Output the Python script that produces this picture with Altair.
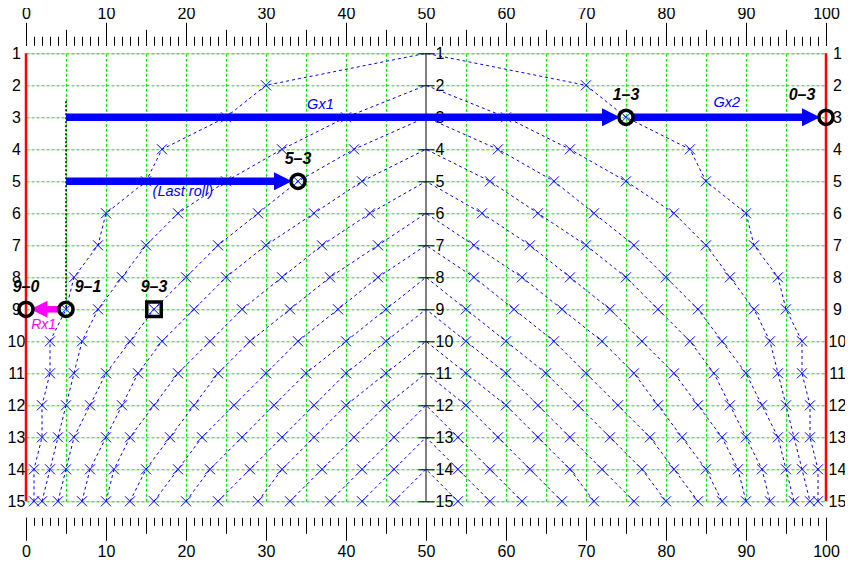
import altair as alt
import pandas as pd

FONT = "Liberation Sans"
BLUE = "#0000ff"
GREEN = "#00e600"
MAGENTA = "#ff00ff"

# ---------------- data ----------------
X_MAJOR = list(range(0, 101, 10))
X_MEDIUM = [v for v in range(5, 100, 5) if v != 50]
X_MINOR = list(range(0, 101, 1))
ROWS = list(range(1, 16))

# left half: row r -> x of r-1, r-2, ... r-(r-1)
LEFT = {
    2: [30],
    3: [25, 40],
    4: [17, 32, 41],
    5: [15, 25, 34, 42],
    6: [10, 19, 29, 36, 43],
    7: [9, 15, 24, 30, 37, 44],
    8: [6, 12, 20, 25, 32, 38, 44],
    9: [5, 9, 16, 21, 27, 33, 39, 45],
    10: [3, 7, 13, 17, 23, 28, 34, 40, 45],
    11: [3, 6, 10, 14, 19, 24, 30, 35, 40, 45],
    12: [2, 5, 8, 12, 16, 21, 26, 31, 36, 40, 45],
    13: [2, 4, 6, 10, 13, 18, 22, 27, 32, 36, 41, 46],
    14: [1, 3, 5, 8, 11, 15, 19, 23, 28, 32, 37, 42, 46],
    15: [1, 2, 4, 7, 10, 13, 16, 20, 24, 29, 33, 38, 42, 46],
}
# right half: row r -> x of 1-r, 2-r, ... (r-1)-r
RIGHT = {
    2: [70],
    3: [75, 60],
    4: [83, 68, 59],
    5: [85, 75, 66, 58],
    6: [90, 81, 71, 64, 57],
    7: [91, 85, 76, 70, 63, 56],
    8: [94, 88, 80, 75, 68, 62, 56],
    9: [95, 91, 84, 79, 73, 67, 61, 55],
    10: [97, 93, 87, 83, 77, 72, 66, 60, 55],
    11: [97, 94, 90, 86, 81, 76, 70, 65, 60, 55],
    12: [98, 95, 92, 88, 84, 79, 74, 69, 64, 60, 55],
    13: [98, 96, 94, 90, 87, 82, 78, 73, 68, 64, 59, 54],
    14: [99, 97, 95, 92, 89, 85, 81, 77, 72, 68, 63, 58, 54],
    15: [99, 98, 96, 93, 90, 87, 84, 80, 76, 71, 67, 62, 58, 54],
}
CENTER_X = 50

BOUNDARY_X = [0, 100]
DOTTED_X = [5]
DOTTED_FROM = [2.5]
DOTTED_TO = [9]

ARROW_NAME = ["Gx1", "Gx2", "Last", "Rx1"]
ARROW_FROM = [5, 75, 5, 5]
ARROW_TO = [75, 100, 34, 0]
ARROW_ROW = [3, 3, 5, 9]

CIRCLE_LABEL = ["9–0", "9–1", "5–3", "1–3", "0–3"]
CIRCLE_X = [0, 5, 34, 75, 100]
CIRCLE_ROW = [9, 9, 5, 3, 3]
SQUARE_LABEL = ["9–3"]
SQUARE_X = [16]
SQUARE_ROW = [9]

NOTE_TEXT = ["Gx1", "Gx2", "(Last roll)"]
NOTE_X = [36.8, 87.6, 19.6]
NOTE_ROW = [2.62, 2.56, 5.33]
RX_TEXT = ["Rx1"]
RX_X = [2.2]
RX_ROW = [9.49]

# ---------------- tables ----------------
recs = []
for b in range(1, 15):
    k = 0
    for a in range(15, b, -1):
        recs.append({"curve": b, "k": k, "x": LEFT[a][b - 1], "row": a}); k += 1
    recs.append({"curve": b, "k": k, "x": CENTER_X, "row": b}); k += 1
    for a in range(b + 1, 16):
        recs.append({"curve": b, "k": k, "x": RIGHT[a][b - 1], "row": a}); k += 1
curves = pd.DataFrame(recs)
marks = curves[curves["x"] != CENTER_X]

boundary = pd.DataFrame({"x": BOUNDARY_X, "r1": [ROWS[0]] * 2, "r2": [ROWS[-1]] * 2})
center = pd.DataFrame({"x": [CENTER_X], "r1": [ROWS[0]], "r2": [ROWS[-1]]})
dotted = pd.DataFrame({"x": DOTTED_X, "r1": DOTTED_FROM, "r2": DOTTED_TO})
arrows = pd.DataFrame({"name": ARROW_NAME, "x1": ARROW_FROM, "x2": ARROW_TO, "row": ARROW_ROW})
circles = pd.DataFrame({"label": CIRCLE_LABEL, "x": CIRCLE_X, "row": CIRCLE_ROW})
squares = pd.DataFrame({"label": SQUARE_LABEL, "x": SQUARE_X, "row": SQUARE_ROW})
notes = pd.DataFrame({"text": NOTE_TEXT, "x": NOTE_X, "row": NOTE_ROW})
rxnote = pd.DataFrame({"text": RX_TEXT, "x": RX_X, "row": RX_ROW})

# ---------------- scales & axes ----------------
xs = alt.Scale(domain=[0, 100], nice=False, zero=False)
ys = alt.Scale(domain=[1, 15], reverse=True, nice=False, zero=False)

common = dict(title=None, domain=False, labelFlush=False, labelOverlap=False,
              tickColor="black", labelColor="black", labelFont=FONT, labelFontSize=16)

ax_top_major = alt.Axis(orient="top", values=X_MAJOR, tickSize=23, offset=8, labelPadding=1, grid=False, **common)
ax_top_med = alt.Axis(orient="top", values=X_MEDIUM, tickSize=16, offset=8, labels=False, grid=True,
                      gridColor=GREEN, gridDash=[3, 2], gridWidth=1, **common)
ax_top_min = alt.Axis(orient="top", values=X_MINOR, tickSize=9, offset=8, labels=False, grid=False, **common)
ax_bot_major = alt.Axis(orient="bottom", values=X_MAJOR, tickSize=23, offset=16, labelPadding=3, grid=False, **common)
ax_bot_med = alt.Axis(orient="bottom", values=X_MEDIUM, tickSize=16, offset=16, labels=False, grid=False, **common)
ax_bot_min = alt.Axis(orient="bottom", values=X_MINOR, tickSize=8, offset=16, labels=False, grid=False, **common)

ax_left = alt.Axis(orient="left", values=ROWS, ticks=False, tickSize=0, labelAlign="center", labelBaseline="middle",
                   labelPadding=10, grid=True, gridColor=GREEN, gridDash=[3, 2], gridWidth=1, **common)
ax_right = alt.Axis(orient="right", values=ROWS, ticks=False, tickSize=0, labelAlign="center", labelBaseline="middle",
                    labelPadding=11, grid=False, **common)
ax_center = alt.Axis(orient="right", values=ROWS, ticks=True, tickSize=16, offset=-408, labelAlign="left",
                     labelBaseline="middle", labelPadding=1, grid=False, **common)

# ---------------- layers ----------------
red_lines = alt.Chart(boundary).mark_rule(color="red", strokeWidth=2.5).encode(
    x=alt.X("x:Q", scale=xs, axis=ax_top_major),
    y=alt.Y("r1:Q", scale=ys, axis=ax_left), y2="r2:Q")

center_line = alt.Chart(center).mark_rule(color="black", strokeWidth=1).encode(
    x=alt.X("x:Q", scale=xs, axis=ax_top_med),
    y=alt.Y("r1:Q", scale=ys, axis=ax_right), y2="r2:Q")

lines = alt.Chart(curves).mark_line(color=BLUE, strokeWidth=1, strokeDash=[3, 3]).encode(
    x=alt.X("x:Q", scale=xs, axis=ax_top_min),
    y=alt.Y("row:Q", scale=ys, axis=ax_center),
    detail="curve:N", order="k:Q")

xmarks = alt.Chart(marks).mark_point(shape="M-1,-1L1,1M-1,1L1,-1", filled=False, size=100,
                                     color=BLUE, strokeWidth=1, opacity=1).encode(
    x=alt.X("x:Q", scale=xs, axis=ax_bot_major),
    y=alt.Y("row:Q", scale=ys, axis=None))

dots = alt.Chart(dotted).mark_rule(color="black", strokeWidth=1.5, strokeDash=[2, 2]).encode(
    x=alt.X("x:Q", scale=xs, axis=ax_bot_med),
    y=alt.Y("r1:Q", scale=ys, axis=None), y2="r2:Q")

arr_a = alt.Chart(arrows).transform_filter(
    alt.FieldOneOfPredicate(field="name", oneOf=["Gx1", "Last"])
).mark_rule(color=BLUE, strokeWidth=7.5, x2Offset=-18).encode(
    x=alt.X("x1:Q", scale=xs, axis=ax_bot_min), x2="x2:Q",
    y=alt.Y("row:Q", scale=ys, axis=None))

arr_b = alt.Chart(arrows).transform_filter(alt.datum.name == "Gx2").mark_rule(
    color=BLUE, strokeWidth=7.5, xOffset=8, x2Offset=-18).encode(
    x=alt.X("x1:Q", scale=xs, axis=None), x2="x2:Q",
    y=alt.Y("row:Q", scale=ys, axis=None))

arr_c = alt.Chart(arrows).transform_filter(alt.datum.name == "Rx1").mark_rule(
    color=MAGENTA, strokeWidth=6.5, xOffset=-8, x2Offset=18).encode(
    x=alt.X("x1:Q", scale=xs, axis=None), x2="x2:Q",
    y=alt.Y("row:Q", scale=ys, axis=None))

TRI = "M-1,-1L1,0L-1,1Z"
heads_blue = alt.Chart(arrows).transform_filter(alt.datum.name != "Rx1").mark_point(
    shape=TRI, filled=True, size=324, color=BLUE, opacity=1, xOffset=-15).encode(
    x=alt.X("x2:Q", scale=xs, axis=None),
    y=alt.Y("row:Q", scale=ys, axis=None))

heads_mag = alt.Chart(arrows).transform_filter(alt.datum.name == "Rx1").mark_point(
    shape=TRI, filled=True, size=289, color=MAGENTA, opacity=1, angle=180, xOffset=13).encode(
    x=alt.X("x2:Q", scale=xs, axis=None),
    y=alt.Y("row:Q", scale=ys, axis=None))

circ = alt.Chart(circles).mark_point(shape="circle", filled=False, size=201, color="black",
                                     strokeWidth=3.5, opacity=1).encode(
    x=alt.X("x:Q", scale=xs, axis=None), y=alt.Y("row:Q", scale=ys, axis=None))

sq = alt.Chart(squares).mark_point(shape="square", filled=False, size=210, color="black",
                                   strokeWidth=3.5, opacity=1).encode(
    x=alt.X("x:Q", scale=xs, axis=None), y=alt.Y("row:Q", scale=ys, axis=None))

score_style = dict(font=FONT, fontSize=16, fontWeight="bold", fontStyle="italic", color="black",
                   baseline="middle", dy=-22)

lab_c = alt.Chart(circles).transform_filter(
    alt.FieldOneOfPredicate(field="label", oneOf=["9–0", "5–3", "1–3"])
).mark_text(align="center", **score_style).encode(
    x=alt.X("x:Q", scale=xs, axis=None), y=alt.Y("row:Q", scale=ys, axis=None), text="label:N")

lab_r = alt.Chart(circles).transform_filter(alt.datum.label == "9–1").mark_text(
    align="center", xOffset=22, **score_style).encode(
    x=alt.X("x:Q", scale=xs, axis=None), y=alt.Y("row:Q", scale=ys, axis=None), text="label:N")

lab_l = alt.Chart(circles).transform_filter(alt.datum.label == "0–3").mark_text(
    align="center", xOffset=-24, **score_style).encode(
    x=alt.X("x:Q", scale=xs, axis=None), y=alt.Y("row:Q", scale=ys, axis=None), text="label:N")

lab_sq = alt.Chart(squares).mark_text(align="center", **score_style).encode(
    x=alt.X("x:Q", scale=xs, axis=None), y=alt.Y("row:Q", scale=ys, axis=None), text="label:N")

note_txt = alt.Chart(notes).mark_text(font=FONT, fontSize=14.5, fontStyle="italic", color=BLUE,
                                      baseline="middle", align="center").encode(
    x=alt.X("x:Q", scale=xs, axis=None), y=alt.Y("row:Q", scale=ys, axis=None), text="text:N")

rx_txt = alt.Chart(rxnote).mark_text(font=FONT, fontSize=14, fontStyle="italic", color=MAGENTA,
                                     baseline="middle", align="center").encode(
    x=alt.X("x:Q", scale=xs, axis=None), y=alt.Y("row:Q", scale=ys, axis=None), text="text:N")

chart = alt.layer(
    red_lines, center_line, lines, xmarks, dots, arr_a, arr_b, arr_c,
    heads_blue, heads_mag, circ, sq, lab_c, lab_r, lab_l, lab_sq, note_txt, rx_txt
).resolve_axis(x="independent", y="independent").properties(
    width=800, height=448,
    autosize=alt.AutoSizeParams(type="none"),
    padding={"left": 18, "top": 45.3, "right": 19, "bottom": 60},
).configure_view(stroke=None).configure(background="white")

chart.save("out.html", embed_options={"renderer": "svg", "actions": False})
